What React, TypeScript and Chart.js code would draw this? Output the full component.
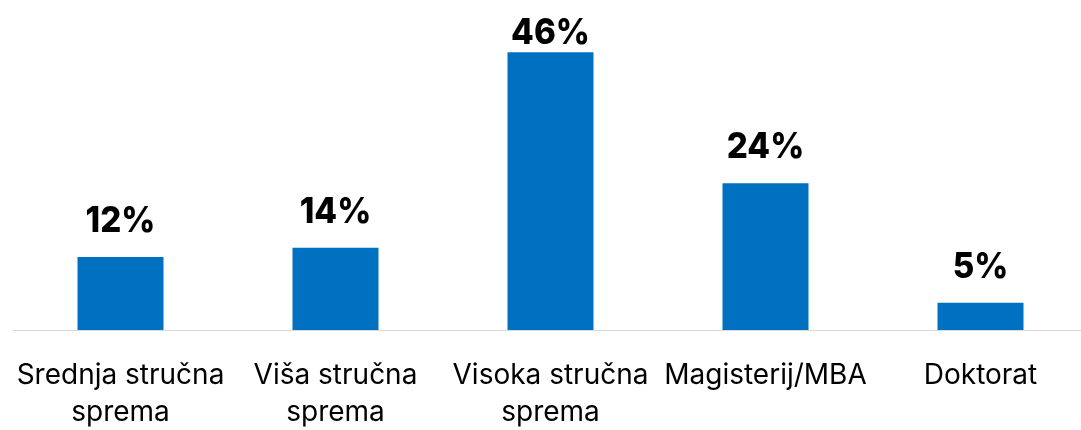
import React, { useEffect, useRef } from "react";
import { Chart, registerables } from "chart.js";

Chart.register(...registerables);

const categories: string[][] = [
  ["Srednja stručna", "sprema"],
  ["Viša stručna", "sprema"],
  ["Visoka stručna", "sprema"],
  ["Magisterij/MBA"],
  ["Doktorat"],
];
const values: number[] = [12.1, 13.6, 46, 24.3, 4.5];
const valueLabels: string[] = ["12%", "14%", "46%", "24%", "5%"];

const FONT = "Inter, 'Open Sans', sans-serif";

export default function App() {
  const ref = useRef<HTMLCanvasElement | null>(null);
  useEffect(() => {
    if (!ref.current) return;
    const labelPlugin = {
      id: "valueLabels",
      afterDatasetsDraw(chart: any) {
        const ctx = chart.ctx;
        const meta = chart.getDatasetMeta(0);
        const minY = chart.chartArea.top + 16;
        ctx.save();
        ctx.fillStyle = "#000000";
        ctx.font = `800 36px ${FONT}`;
        ctx.textAlign = "center";
        ctx.textBaseline = "alphabetic";
        meta.data.forEach((bar: any, i: number) => {
          const y = Math.max(bar.y - 25, minY);
          ctx.save();
          ctx.translate(bar.x, y);
          ctx.scale(0.92, 1);
          ctx.fillText(valueLabels[i], 0, 0);
          ctx.restore();
        });
        // category labels under the axis
        const xs = chart.scales.x;
        const bottom = chart.chartArea.bottom;
        ctx.font = `400 28px ${FONT}`;
        ctx.fillStyle = "#000000";
        chart.data.labels.forEach((lab: string[], i: number) => {
          const x = xs.getPixelForTick(i);
          lab.forEach((line: string, j: number) => {
            ctx.fillText(line, x, bottom + 54 + j * 37);
          });
        });
        ctx.restore();
      },
    };
    const chart = new Chart(ref.current, {
      type: "bar",
      data: {
        labels: categories,
        datasets: [
          {
            data: values,
            backgroundColor: "#0070C0",
            borderWidth: 0,
            categoryPercentage: 1,
            barPercentage: 0.4,
          },
        ],
      },
      options: {
        animation: false,
        responsive: false,
        maintainAspectRatio: false,
        layout: { padding: { top: 28, left: 13, right: 0, bottom: 100 } },
        plugins: { legend: { display: false }, tooltip: { enabled: false } },
        scales: {
          y: { display: false, min: 0, max: 50 },
          x: {
            grid: { display: false, drawTicks: false },
            border: { display: true, color: "#D9D9D9", width: 1 },
            ticks: { display: false },
          },
        },
      },
      plugins: [labelPlugin],
    });
    return () => chart.destroy();
  }, []);
  return (
    <div style={{ position: "absolute", left: 0, top: 0, width: 1081, height: 430, overflow: "hidden", background: "#fff" }}>
      <canvas ref={ref} width={1088} height={430} style={{ width: 1088, height: 430, display: "block" }} />
    </div>
  );
}
